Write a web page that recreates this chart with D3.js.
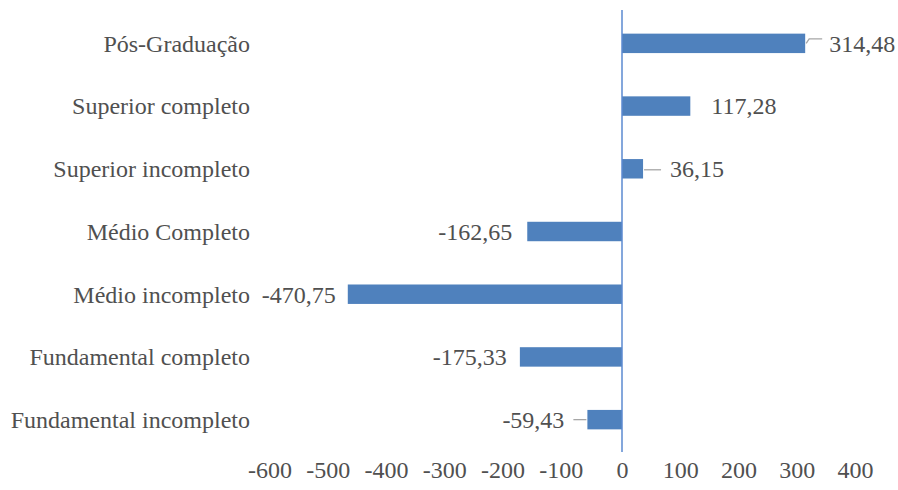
<!DOCTYPE html>
<html><head><meta charset="utf-8">
<script src="https://cdn.jsdelivr.net/npm/d3@7/dist/d3.min.js"></script>
<style>body{margin:0;background:#fff;} text{font-family:"Liberation Serif","Times New Roman",serif;fill:#505050;}</style>
</head><body>
<svg id="c" width="898" height="490"></svg>
<script>
const categories = ["Pós-Graduação","Superior completo","Superior incompleto","Médio Completo","Médio incompleto","Fundamental completo","Fundamental incompleto"];
const values = [314.48,117.28,36.15,-162.65,-470.75,-175.33,-59.43];
const labels = ["314,48","117,28","36,15","-162,65","-470,75","-175,33","-59,43"];
const tickValues = [-600,-500,-400,-300,-200,-100,0,100,200,300,400];
const leader = [true,false,true,false,false,false,true];

const svg = d3.select("#c");
const x = d3.scaleLinear().domain([-600,400]).range([272.5,855]);
const y = d3.scaleBand().domain(categories).range([12,451]).paddingInner(0.69).paddingOuter(0.345);
const fs = 24;

svg.selectAll("rect.bar").data(values).join("rect")
  .attr("x", d => x(Math.min(0,d)))
  .attr("width", d => Math.abs(x(d)-x(0)))
  .attr("y", (d,i) => y(categories[i]))
  .attr("height", y.bandwidth())
  .attr("fill", "#4f81bd");

// zero axis line
svg.append("line").attr("x1", x(0)).attr("x2", x(0)).attr("y1", 10).attr("y2", 452)
  .attr("stroke", "#5b8ad0").attr("stroke-width", 1.5);

// tick labels
const xAxis = d3.axisBottom(x).tickValues(tickValues).tickSize(0).tickFormat(d => String(d));
const ga = svg.append("g").attr("transform", "translate(0,470)").call(xAxis);
ga.select(".domain").remove();
ga.selectAll("text").attr("font-size", fs).attr("font-family", "Liberation Serif").attr("fill", "#505050").attr("dy", "0.35em").attr("y", 0)
  .attr("x", d => d < 0 ? -3 : 0);

// category labels
svg.selectAll("text.cat").data(categories).join("text")
  .attr("class","cat")
  .attr("x", 250).attr("y", d => y(d) + y.bandwidth()/2)
  .attr("dy","0.35em").attr("text-anchor","end").attr("font-size", fs)
  .text(d => d);

// data labels
const gaps = [24, 21, 27, 15, 12, 13, 23];
values.forEach((v,i) => {
  const cy = y(categories[i]) + y.bandwidth()/2;
  const end = x(v);
  const gap = gaps[i];
  const tx = v >= 0 ? end + gap : end - gap;
  if (leader[i]) {
    const a = v >= 0 ? end + 1 : end - 1;
    let path;
    if (i === 0) path = `M${a},${cy}L${a+3},${cy-4.5}L${tx-7},${cy-4.5}`;
    else if (v >= 0) path = `M${a},${cy+1}L${tx-9},${cy+1}`;
    else path = `M${a},${cy}L${tx+9},${cy}`;
    svg.append("path").attr("d", path).attr("fill","none").attr("stroke","#a6a6a6").attr("stroke-width",1.3);
  }
  svg.append("text").attr("x", tx).attr("y", cy).attr("dy","0.35em")
    .attr("text-anchor", v >= 0 ? "start" : "end").attr("font-size", fs).text(labels[i]);
});
</script>
</body></html>
